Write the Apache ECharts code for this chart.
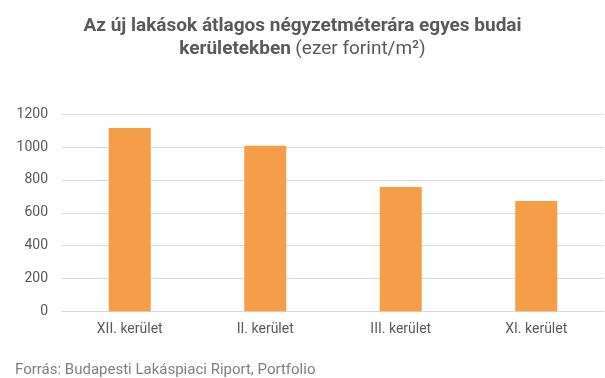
<!DOCTYPE html>
<html>
<head>
<meta charset="utf-8">
<script src="https://cdn.jsdelivr.net/npm/echarts@6/dist/echarts.min.js"></script>
<style>
  html, body { margin: 0; padding: 0; background: #fff; }
  #chart { width: 605px; height: 378px; }
</style>
</head>
<body>
<div id="chart"></div>
<script>
// kerületek
var categories = ['XII. kerület', 'II. kerület', 'III. kerület', 'XI. kerület'];
// ezer forint/m2
var values = [1116, 1008, 757, 672];
var yTicks = [0, 200, 400, 600, 800, 1000, 1200];

var myChart = echarts.init(document.getElementById('chart'));

var option = {
    animation: false,
    backgroundColor: '#fff',
    textStyle: { fontFamily: 'Roboto' },
    title: [
        {
            text: '{b|Az új lakások átlagos négyzetméterára egyes budai}\n{b|kerületekben} {n|(ezer forint/m²)}',
            left: 'center',
            top: 10,
            textStyle: {
                rich: {
                    b: { fontFamily: 'Roboto', fontWeight: 'bold', fontSize: 19, color: '#595959', lineHeight: 23, align: 'center' },
                    n: { fontFamily: 'Roboto', fontWeight: 'normal', fontSize: 19, color: '#595959', lineHeight: 23 }
                }
            }
        },
        {
            text: 'Forrás: Budapesti Lakáspiaci Riport, Portfolio',
            left: 10,
            top: 358,
            textStyle: { fontFamily: 'Roboto', fontWeight: 'normal', fontSize: 15, color: '#7f7f7f' }
        }
    ],
    grid: { left: 62, right: 1, top: 114.3, bottom: 66.7, containLabel: false },
    xAxis: {
        type: 'category',
        data: categories,
        axisLine: { lineStyle: { color: '#d9d9d9', width: 1 } },
        axisTick: { show: false },
        axisLabel: { color: '#595959', fontSize: 14, margin: 11 }
    },
    yAxis: {
        type: 'value',
        min: yTicks[0],
        max: yTicks[yTicks.length - 1],
        interval: 200,
        axisLine: { show: false },
        axisTick: { show: false },
        splitLine: { lineStyle: { color: '#d9d9d9', width: 1 } },
        axisLabel: {
            color: '#595959', fontSize: 14, margin: 14,
            formatter: function (v) { return String(v); }
        }
    },
    series: [
        {
            type: 'bar',
            data: values,
            barWidth: 42,
            itemStyle: { color: '#f59d48' }
        }
    ]
};

myChart.setOption(option);
</script>
</body>
</html>
